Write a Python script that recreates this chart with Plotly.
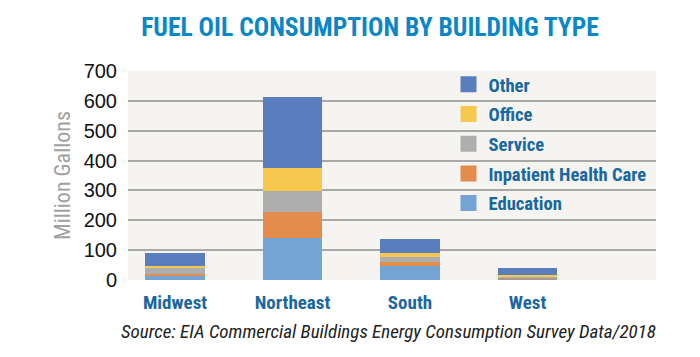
import plotly.graph_objects as go

regions = ["Midwest", "Northeast", "South", "West"]
series_names = ["Education", "Inpatient Health Care", "Service", "Office", "Other"]
education = [12, 140, 48, 5]
inpatient = [8, 88, 13, 2]
service = [22, 70, 15, 2]
office = [5, 78, 13, 8]
other = [43, 238, 47, 23]
y_ticks = [0, 100, 200, 300, 400, 500, 600, 700]

values = [education, inpatient, service, office, other]
colors = ["#73a4d4", "#e38c4c", "#aeaeae", "#f6c94e", "#5a7dbd"]

fig = go.Figure()
for name, vals, col in zip(series_names, values, colors):
    fig.add_trace(go.Bar(
        x=regions, y=vals, name=name, marker=dict(color=col, line=dict(width=0)),
        width=0.506, showlegend=False,
    ))
for i, (name, col) in enumerate(zip(series_names, colors)):
    fig.add_trace(go.Scatter(
        x=[None], y=[None], mode="markers", name=name, legendgroup=name,
        legendrank=100 - i,
        marker=dict(symbol="square", size=17, color=col),
    ))

RC = "Roboto Condensed, Roboto, sans-serif"

fig.update_layout(
    width=700, height=357,
    barmode="stack",
    paper_bgcolor="white",
    plot_bgcolor="#f5f4f0",
    margin=dict(l=128, r=44, t=71, b=77),
    title=dict(
        text="<b>FUEL OIL CONSUMPTION BY BUILDING TYPE</b>",
        font=dict(family=RC, size=25.6, color="#0b86c6"),
        x=370 / 700, xanchor="center", y=1 - 27.5 / 357, yanchor="middle",
    ),
    xaxis=dict(
        range=[-0.4, 4.094], showgrid=False, zeroline=False, automargin=False,
        tickfont=dict(family=RC, size=19, color="#1a679f", weight="bold"),
        ticklabelstandoff=9,
    ),
    yaxis=dict(
        range=[0, 700], tickvals=y_ticks, showgrid=True, automargin=False,
        gridcolor="#a8a8a8", gridwidth=1.6, zeroline=False,
        tickfont=dict(family="Liberation Sans, Arial, sans-serif", size=20, color="#111"),
        ticklabelstandoff=10,
        title=dict(text="Million Gallons",
                   font=dict(family=RC, size=22, color="#a0a0a0"),
                   standoff=6),
    ),
    legend=dict(
        x=0.607, y=1.025, xanchor="left", yanchor="top",
        bgcolor="rgba(0,0,0,0)",
        traceorder="grouped", tracegroupgap=2.5,
        font=dict(family=RC, size=18.6, color="#1767a0", weight="bold"),
    ),
    annotations=[dict(
        text="<i>Source: EIA Commercial Buildings Energy Consumption Survey Data/2018</i>",
        xref="paper", yref="paper", x=(657.5 - 128) / 528, xanchor="right",
        y=-(331 - 280) / 209, yanchor="middle", showarrow=False,
        font=dict(family=RC, size=19, color="#222"),
    )],
)

fig.write_html("out.html", config={"displayModeBar": False},
               post_script="document.body.style.margin='0';")
